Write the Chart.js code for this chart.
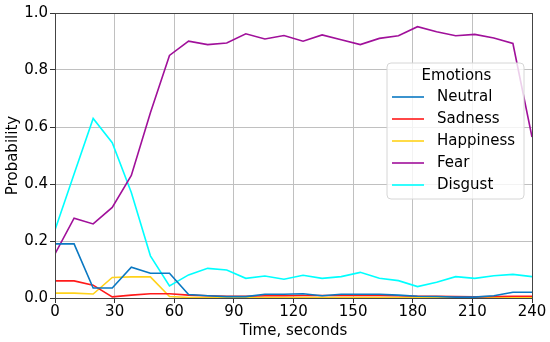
<!DOCTYPE html>
<html>
<head>
<meta charset="utf-8">
<script src="https://cdn.jsdelivr.net/npm/chart.js@4"></script>
<style>
  html, body { margin: 0; padding: 0; background: #fff; }
  #wrap { width: 550px; height: 342px; }
</style>
</head>
<body>
<div id="wrap"><canvas id="chart" width="550" height="342"></canvas></div>
<script>
// time points (seconds)
const times = [0, 9.6, 19.2, 28.8, 38.4, 48, 57.6, 67.2, 76.8, 86.4, 96, 105.6, 115.2,
  124.8, 134.4, 144, 153.6, 163.2, 172.8, 182.4, 192, 201.6, 211.2, 220.8, 230.4, 240];

const neutral = [0.19, 0.19, 0.035, 0.035, 0.108, 0.087, 0.087, 0.012, 0.008, 0.005, 0.005, 0.013, 0.013,
  0.015, 0.008, 0.013, 0.013, 0.013, 0.01, 0.006, 0.005, 0.003, 0.003, 0.008, 0.02, 0.02];
const sadness = [0.06, 0.06, 0.045, 0.004, 0.01, 0.015, 0.015, 0.01, 0.008, 0.006, 0.006, 0.008, 0.008,
  0.009, 0.009, 0.009, 0.009, 0.009, 0.008, 0.006, 0.006, 0.005, 0.004, 0.005, 0.006, 0.006];
const happiness = [0.017, 0.017, 0.014, 0.072, 0.074, 0.074, 0.005, 0.002, 0.002, 0.002, 0.002, 0.002, 0.002,
  0.002, 0.002, 0.002, 0.002, 0.002, 0.002, 0.002, 0.002, 0.002, 0.002, 0.002, 0.002, 0.002];
const fear = [0.155, 0.28, 0.26, 0.318, 0.43, 0.65, 0.851, 0.901, 0.889, 0.895, 0.927, 0.909, 0.921,
  0.901, 0.923, 0.906, 0.889, 0.911, 0.92, 0.952, 0.934, 0.92, 0.925, 0.912, 0.893, 0.565];
const disgust = [0.239, 0.435, 0.63, 0.545, 0.37, 0.148, 0.042, 0.081, 0.104, 0.098, 0.069, 0.077, 0.066,
  0.08, 0.069, 0.075, 0.09, 0.069, 0.061, 0.04, 0.055, 0.075, 0.069, 0.078, 0.083, 0.075];

const seriesNames = ["Neutral", "Sadness", "Happiness", "Fear", "Disgust"];
const seriesValues = [neutral, sadness, happiness, fear, disgust];
const seriesColors = ["#0a78c2", "#ff1a1a", "#ffd21a", "#a0109a", "#00ffff"];

const xTicks = [0, 30, 60, 90, 120, 150, 180, 210, 240];
const yTicks = [0, 0.2, 0.4, 0.6, 0.8, 1.0];

const FONT = "'DejaVu Sans', sans-serif";

const datasets = seriesNames.map((name, i) => ({
  label: name,
  data: times.map((t, j) => ({ x: t, y: seriesValues[i][j] })),
  borderColor: seriesColors[i],
  backgroundColor: seriesColors[i],
  borderWidth: 1.6,
  pointRadius: 0,
  tension: 0,
  fill: false
}));

// frame around the plot area, like matplotlib axes
const framePlugin = {
  id: "frame",
  afterDatasetsDraw(chart) {
    const { ctx, chartArea: a } = chart;
    ctx.save();
    ctx.strokeStyle = "#444";
    ctx.lineWidth = 1;
    ctx.strokeRect(a.left + 0.5, a.top + 0.5, a.right - a.left, a.bottom - a.top);
    ctx.restore();
  }
};

// legend box inside the plot area
const legendPlugin = {
  id: "boxLegend",
  afterDraw(chart) {
    const ctx = chart.ctx;
    const x = 387, y = 63, w = 137, h = 136;
    ctx.save();
    ctx.beginPath();
    ctx.roundRect(x, y, w, h, 4);
    ctx.fillStyle = "rgba(255,255,255,0.8)";
    ctx.fill();
    ctx.strokeStyle = "#d6d6d6";
    ctx.lineWidth = 1;
    ctx.stroke();

    ctx.fillStyle = "#000";
    ctx.font = "15px " + FONT;
    ctx.textBaseline = "middle";
    ctx.textAlign = "center";
    ctx.fillText("Emotions", x + w / 2 + 1, y + 13);
    ctx.textAlign = "left";
    chart.data.datasets.forEach((ds, i) => {
      const ly = y + 34 + i * 22;
      ctx.strokeStyle = ds.borderColor;
      ctx.lineWidth = 1.6;
      ctx.beginPath();
      ctx.moveTo(x + 5, ly);
      ctx.lineTo(x + 37, ly);
      ctx.stroke();
      ctx.fillStyle = "#000";
      ctx.fillText(ds.label, x + 50, ly);
    });
    ctx.restore();
  }
};

new Chart(document.getElementById("chart"), {
  type: "line",
  data: { datasets: datasets },
  plugins: [framePlugin, legendPlugin],
  options: {
    responsive: false,
    animation: false,
    layout: { padding: { top: 13, right: 18, left: 0, bottom: 0 } },
    plugins: {
      legend: { display: false },
      tooltip: { enabled: false }
    },
    scales: {
      x: {
        type: "linear",
        min: 0,
        max: 240,
        afterBuildTicks: (s) => { s.ticks = xTicks.map(v => ({ value: v })); },
        afterFit: (s) => { s.height = 44; },
        grid: { color: "#c0c0c0", lineWidth: 1, tickLength: 5, tickColor: "#333" },
        border: { display: false },
        ticks: { color: "#000", font: { family: FONT, size: 15 }, padding: 0, maxRotation: 0 },
        title: { display: true, text: "Time, seconds", color: "#000", font: { family: FONT, size: 15 }, padding: { top: 0, bottom: 2 } }
      },
      y: {
        min: 0,
        max: 1,
        afterBuildTicks: (s) => { s.ticks = yTicks.map(v => ({ value: v })); },
        afterFit: (s) => { s.width = 55; },
        grid: { color: "#c0c0c0", lineWidth: 1, tickLength: 5, tickColor: "#333" },
        border: { display: false },
        ticks: {
          color: "#000", font: { family: FONT, size: 15 }, padding: 2,
          callback: (v) => Number(v).toFixed(1)
        },
        title: { display: true, text: "Probability", color: "#000", font: { family: FONT, size: 15 }, padding: { bottom: 0, top: 4 } }
      }
    }
  }
});
</script>
</body>
</html>
